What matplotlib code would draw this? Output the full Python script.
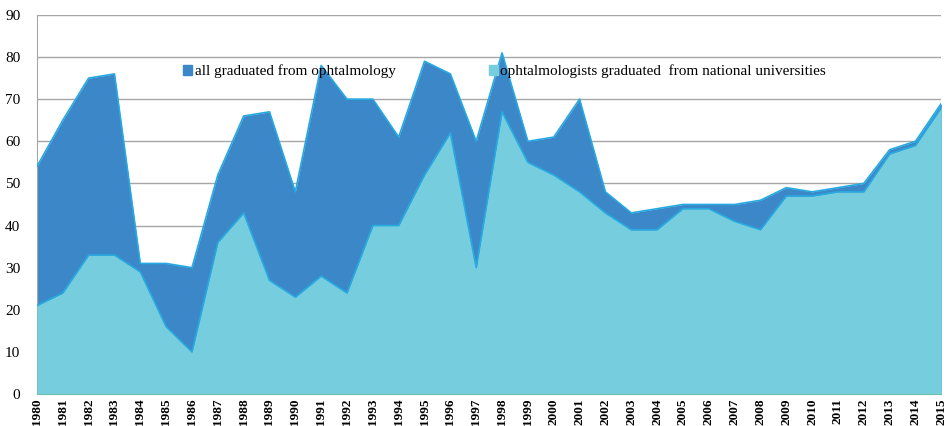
import numpy as np
import matplotlib.pyplot as plt
from matplotlib.patches import Patch

years = list(range(1980, 2016))
all_grad = [54, 65, 75, 76, 31, 31, 30, 52, 66, 67, 48, 78, 70, 70, 61, 79, 76, 60,
            81, 60, 61, 70, 48, 43, 44, 45, 45, 45, 46, 49, 48, 49, 50, 58, 60, 69]
national = [21, 24, 33, 33, 29, 16, 10, 36, 43, 27, 23, 28, 24, 40, 40, 52, 62, 30,
            67, 55, 52, 48, 43, 39, 39, 44, 44, 41, 39, 47, 47, 48, 48, 57, 59, 68]
labels = ["all graduated from ophtalmology",
          "ophtalmologists graduated  from national universities"]

dark = "#3c87c8"
light = "#76cddd"
edge = "#27a9e1"

plt.rcParams['font.family'] = ['Liberation Serif', 'DejaVu Serif']

fig = plt.figure(figsize=(9.47, 4.26), dpi=100)
ax = fig.add_axes([0.039, 0.075, 0.955, 0.89])

ax.fill_between(years, all_grad, color=dark, linewidth=0, zorder=2)
ax.plot(years, all_grad, color=edge, lw=1.2, zorder=3)
ax.fill_between(years, national, color=light, linewidth=0, zorder=4)
ax.plot(years, national, color=edge, lw=1.2, zorder=5)

ax.set_xlim(1980, 2015)
ax.set_ylim(0, 90)
ax.set_yticks(range(0, 91, 10))
ax.set_xticks(years)
ax.set_xticklabels([str(y) for y in years], rotation=90, fontsize=9.5, fontweight='bold')
ax.tick_params(axis='y', labelsize=11, length=0, pad=12)
ax.tick_params(axis='x', length=0, pad=3)
ax.grid(axis='y', color='#a6a6a6', lw=1, zorder=1)
ax.set_axisbelow(True)
for s in ['top', 'right']:
    ax.spines[s].set_visible(False)
ax.spines['left'].set_color('#a6a6a6')
ax.spines['bottom'].set_color('#6cbfa9')
ax.spines['bottom'].set_zorder(6)

handles = [Patch(color=dark), Patch(color=light)]
leg = ax.legend(handles, labels, ncol=2, loc='upper left', bbox_to_anchor=(0.155, 0.885),
                frameon=False, fontsize=11, handlelength=0.6, handleheight=0.6,
                handletextpad=0.15, columnspacing=6.1, borderaxespad=0)
leg.set_zorder(10)

fig.savefig("out.png", dpi=100)
